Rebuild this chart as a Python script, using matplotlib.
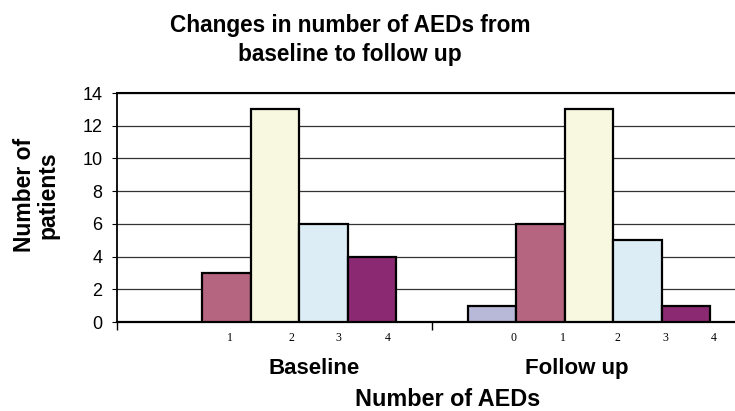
import numpy as np
import matplotlib.pyplot as plt

# counts of patients by number of AEDs (0..4)
aed_levels = [0, 1, 2, 3, 4]
baseline_counts = [0, 3, 13, 6, 4]
followup_counts = [1, 6, 13, 5, 1]
groups = ["Baseline", "Follow up"]
colours = ["#b8b8d9", "#b5657f", "#f8f8e0", "#ddedf6", "#8b2a72"]
yticks = [0, 2, 4, 6, 8, 10, 12, 14]

def main():
    plt.rcParams['font.family'] = "sans-serif"
    plt.rcParams['font.sans-serif'] = ["Liberation Sans", "DejaVu Sans"]

    fig = plt.figure(figsize=(7.35, 4.11), dpi=100)
    ax = fig.add_axes([117 / 735, 89 / 411, 630 / 735, 229 / 411])

    width = 0.154
    starts = [0.116, 1.114]
    shifts = [[-0.035, -0.065, -0.025, -0.028, -0.025],
              [-0.01, -0.005, 0.012, 0.01, 0.012]]

    for g, counts in enumerate([baseline_counts, followup_counts]):
        for k, (lev, val) in enumerate(zip(aed_levels, counts)):
            left = starts[g] + k * width
            if val > 0:
                ax.bar(left, val, width=width, align="edge",
                       color=colours[k], edgecolor="black", lw=1.6,
                       zorder=3)
                ax.text(left + width + shifts[g][k], -0.95, str(lev),
                        ha="center", va="center", fontsize=8.5,
                        family="Liberation Serif")

    ax.text(0.625, -2.85, groups[0], ha="center", va="center",
            fontsize=16, fontweight="bold")
    ax.text(1.46, -2.85, groups[1], ha="center", va="center",
            fontsize=16, fontweight="bold")
    ax.text(1.05, -4.72, "Number of AEDs", ha="center", va="center",
            fontsize=16.8, fontweight="bold")

    ax.set_xlim(0, 2)
    ax.set_ylim(0, 14)
    ax.set_yticks(yticks)
    ax.set_xticks([0, 1, 2])
    ax.set_xticklabels([])
    ax.tick_params(axis="x", direction="out", length=6, width=1.0)
    ax.tick_params(axis="y", direction="out", length=3.5, width=0.8,
                   labelsize=13, pad=7)
    ax.yaxis.grid(True, color="#333333", lw=0.9, zorder=0)
    ax.set_axisbelow(True)

    for side in ["left", "bottom", "top"]:
        ax.spines[side].set_color("black")
    ax.spines["left"].set_linewidth(1.3)
    ax.spines["bottom"].set_linewidth(1.6)
    ax.spines["top"].set_linewidth(1.5)
    ax.spines["right"].set_visible(False)

    fig.text(36 / 735, 1 - 195 / 411, "Number of\npatients", rotation=90,
             ha="center", va="center", fontsize=16.5, fontweight="bold",
             linespacing=1.0)

    fig.text(350 / 735, 1 - 40 / 411,
             "Changes in number of AEDs from\nbaseline to follow up",
             ha="center", va="center", fontsize=16.3, fontweight="bold",
             linespacing=1.3)

    fig.savefig("out.png", dpi=100)

if __name__ == "__main__":
    main()
